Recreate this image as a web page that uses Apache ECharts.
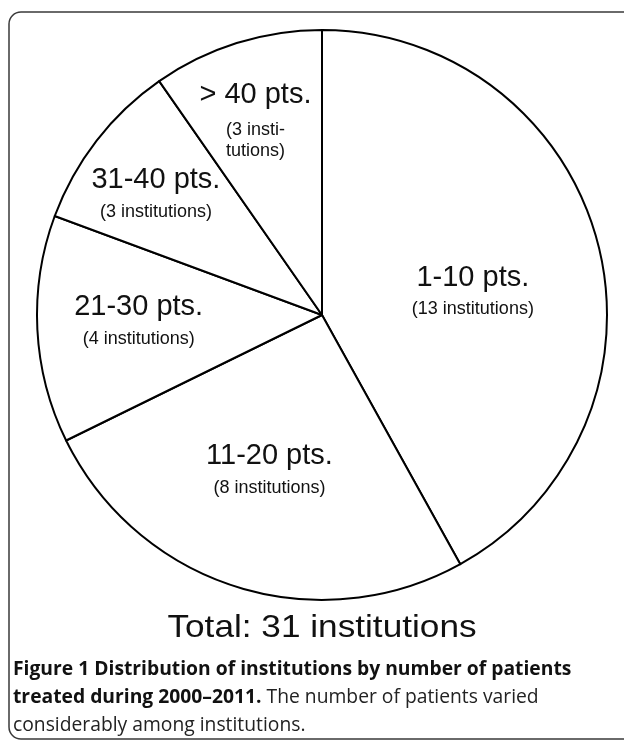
<!DOCTYPE html>
<html>
<head>
<meta charset="utf-8">
<script src="https://cdn.jsdelivr.net/npm/echarts@6/dist/echarts.min.js"></script>
<style>
  html, body { margin: 0; padding: 0; background: #fff; }
  #chart { width: 624px; height: 740px; }
</style>
</head>
<body>
<div id="chart"></div>
<script>
// Patient-volume groups and how many institutions fall in each
const ranges = ['1-10 pts.', '11-20 pts.', '21-30 pts.', '31-40 pts.', '> 40 pts.'];
const counts = [13, 8, 4, 3, 3];
const countLabels = ['(13 institutions)', '(8 institutions)', '(4 institutions)', '(3 institutions)', '(3 insti-\ntutions)'];
const totalText = 'Total: 31 institutions';
const captionBold1 = 'Figure 1 Distribution of institutions by number of patients';
const captionBold2 = 'treated during 2000\u20132011.';
const captionRest2 = ' The number of patients varied';
const captionRest3 = 'considerably among institutions.';

// hand-tuned nudges for the in-slice labels
const labelShift = [[10, 13], [-9, 16], [-38, -1], [-51, -32], [-23, -60]];

const chart = echarts.init(document.getElementById('chart'), null, { renderer: 'canvas' });

const pieData = ranges.map((name, i) => ({
  name: name,
  value: counts[i],
  label: {
    formatter: i === 4
      ? '{a2|' + name + '}\n' + countLabels[i].split('\n').map(s => '{c|' + s + '}').join('\n')
      : '{a|' + name + '}\n{b|' + countLabels[i] + '}'
  }
}));

const sans = '"Liberation Sans", Arial, Helvetica, sans-serif';
const capFont = '"Open Sans", "Noto Sans", sans-serif';

chart.setOption({
  backgroundColor: '#ffffff',
  animation: false,
  graphic: [
    {
      type: 'rect',
      shape: { x: 9, y: 12, width: 700, height: 727, r: 12 },
      style: { fill: 'none', stroke: '#3a3a3a', lineWidth: 1.5 },
      z: 0
    },
    {
      type: 'text',
      x: 322, y: 628,
      scaleX: 1.1,
      style: {
        text: totalText,
        fontFamily: sans,
        fontSize: 32,
        fill: '#111',
        textAlign: 'center',
        textVerticalAlign: 'middle'
      }
    },
    {
      type: 'text',
      x: 13, y: 656,
      style: {
        text: '{b|' + captionBold1 + '}\n{b|' + captionBold2 + '}{r|' + captionRest2 + '}\n{r|' + captionRest3 + '}',
        rich: {
          b: { fontFamily: capFont, fontWeight: 'bold', fontSize: 19.3, lineHeight: 28, fill: '#111' },
          r: { fontFamily: capFont, fontWeight: 'normal', fontSize: 19.3, lineHeight: 28, fill: '#222' }
        },
        textAlign: 'left',
        textVerticalAlign: 'top'
      }
    }
  ],
  series: [{
    type: 'pie',
    center: [322, 315],
    radius: [0, 285],
    startAngle: 90,
    clockwise: true,
    silent: true,
    itemStyle: { color: '#ffffff', borderColor: '#000000', borderWidth: 2 },
    label: {
      show: true,
      position: 'inside',
      color: '#111',
      fontFamily: sans,
      rich: {
        a: { fontFamily: sans, fontSize: 29, lineHeight: 36, color: '#111', align: 'center' },
        a2: { fontFamily: sans, fontSize: 29, lineHeight: 48, color: '#111', align: 'center' },
        b: { fontFamily: sans, fontSize: 18, lineHeight: 28, color: '#111', align: 'center' },
        c: { fontFamily: sans, fontSize: 18, lineHeight: 21, color: '#111', align: 'center' }
      }
    },
    labelLine: { show: false },
    labelLayout: function (params) {
      const s = labelShift[params.dataIndex];
      return { dx: s[0], dy: s[1] };
    },
    emphasis: { disabled: true },
    data: pieData
  }]
});
</script>
</body>
</html>
